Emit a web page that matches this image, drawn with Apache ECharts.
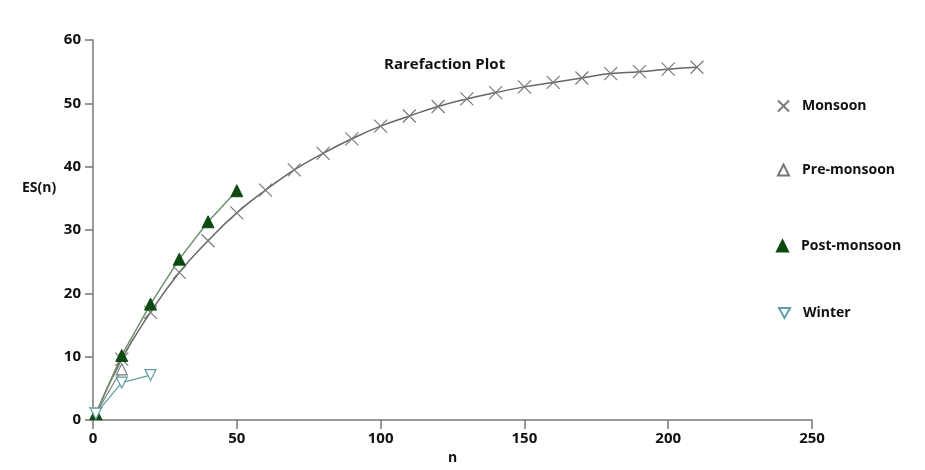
<!DOCTYPE html>
<html>
<head>
<meta charset="utf-8">
<script src="https://cdn.jsdelivr.net/npm/echarts@6/dist/echarts.min.js"></script>
<style>
  html, body { margin: 0; padding: 0; background: #fff; }
  #main { width: 925px; height: 470px; }
</style>
</head>
<body>
<div id="main"></div>
<script>
// sample sizes n
var monsoonN = [1, 10, 20, 30, 40, 50, 60, 70, 80, 90, 100, 110, 120, 130, 140, 150, 160, 170, 180, 190, 200, 210];
var monsoonES = [1, 9.6, 17.0, 23.3, 28.3, 32.7, 36.3, 39.5, 42.1, 44.4, 46.4, 48.0, 49.5, 50.7, 51.7, 52.6, 53.3, 54.0, 54.7, 55.0, 55.4, 55.7];

var preN = [1, 10];
var preES = [1, 8.0];

var postN = [1, 10, 20, 30, 40, 50];
var postES = [1, 10.2, 18.3, 25.4, 31.3, 36.2];

var winterN = [1, 10, 20];
var winterES = [1, 5.9, 7.1];

var xTicks = [0, 50, 100, 150, 200, 250];
var yTicks = [0, 10, 20, 30, 40, 50, 60];

function pairs(xs, ys) {
    var out = [];
    for (var i = 0; i < xs.length; i++) {
        out.push([xs[i], ys[i]]);
    }
    return out;
}

var crossSym = 'path://M0,0L10,10M10,0L0,10';
var downTri = 'path://M0,0L10,0L5,9Z';
var font = '"Open Sans", "DejaVu Sans", sans-serif';

function legendAt(name, icon, top, left, size) {
    return {
        data: [{ name: name, icon: icon }],
        orient: 'vertical',
        left: left,
        top: top,
        itemWidth: size,
        itemHeight: size,
        itemGap: 0,
        textStyle: { fontFamily: font, fontWeight: 'bold', fontSize: 14, color: '#111', padding: [0, 0, 0, 8] }
    };
}

var chart = echarts.init(document.getElementById('main'));
var option = {
    backgroundColor: '#fff',
    animation: false,
    title: {
        text: 'Rarefaction Plot',
        left: 379,
        top: 52,
        textStyle: { fontFamily: font, fontWeight: 'bold', fontSize: 15, color: '#111' }
    },
    legend: [
        legendAt('Monsoon', crossSym, 94, 772, 11),
        legendAt('Pre-monsoon', 'triangle', 158, 772, 11),
        legendAt('Post-monsoon', 'triangle', 234, 771, 11),
        legendAt('Winter', downTri, 301, 773, 11)
    ],
    graphic: [{
        type: 'text',
        left: 22,
        top: 181,
        style: { text: 'ES(n)', font: 'bold 14px ' + font, fill: '#111' }
    }],
    grid: { left: 93, right: 113, top: 40, bottom: 48 },
    xAxis: {
        type: 'value',
        min: xTicks[0],
        max: xTicks[xTicks.length - 1],
        interval: 50,
        name: 'n',
        nameLocation: 'middle',
        nameGap: 31,
        nameTextStyle: { fontFamily: font, fontWeight: 'bold', fontSize: 14, color: '#111' },
        splitLine: { show: false },
        axisLine: { lineStyle: { color: '#777', width: 1.5 } },
        axisTick: { length: 9, lineStyle: { color: '#777', width: 1.5 } },
        axisLabel: { fontFamily: font, fontWeight: 'bold', fontSize: 15, color: '#111', margin: 11 }
    },
    yAxis: {
        type: 'value',
        min: yTicks[0],
        max: yTicks[yTicks.length - 1],
        interval: 10,
        splitLine: { show: false },
        axisLine: { lineStyle: { color: '#777', width: 1.5 } },
        axisTick: { length: 8, lineStyle: { color: '#777', width: 1.5 } },
        axisLabel: { fontFamily: font, fontWeight: 'bold', fontSize: 15, color: '#111', margin: 12 }
    },
    series: [
        {
            name: 'Monsoon',
            type: 'line',
            data: pairs(monsoonN, monsoonES),
            symbol: crossSym,
            symbolSize: 13,
            smooth: true,
            lineStyle: { color: '#666', width: 1.5 },
            itemStyle: { color: '#777', borderColor: '#7a7a7a', borderWidth: 1.2 },
            z: 2
        },
        {
            name: 'Pre-monsoon',
            type: 'line',
            data: pairs(preN, preES),
            symbol: 'triangle',
            symbolSize: 11,
            lineStyle: { color: '#888', width: 1.2 },
            itemStyle: { color: '#fff', borderColor: '#777', borderWidth: 1.2 },
            z: 3
        },
        {
            name: 'Post-monsoon',
            type: 'line',
            data: pairs(postN, postES),
            symbol: 'triangle',
            symbolSize: 12,
            lineStyle: { color: '#6f8f6f', width: 1.5 },
            itemStyle: { color: '#0d4a12', borderColor: '#0d4a12', borderWidth: 1 },
            z: 4
        },
        {
            name: 'Winter',
            type: 'line',
            data: pairs(winterN, winterES),
            symbol: downTri,
            symbolSize: 11,
            lineStyle: { color: '#5e9ea8', width: 1.3 },
            itemStyle: { color: '#fff', borderColor: '#5e9ea8', borderWidth: 1.2 },
            z: 5
        }
    ]
};
chart.setOption(option);
</script>
</body>
</html>
